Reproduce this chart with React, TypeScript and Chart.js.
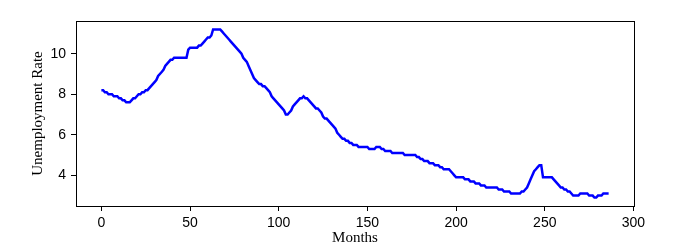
import React, { useEffect, useRef } from "react";
import { Chart, registerables } from "chart.js";

Chart.register(...registerables);

// Monthly unemployment rate, month index 0..286
const rates: number[] = [
  8.2, 8.2, 8.1, 8.1, 8.0, 8.0, 8.0, 7.9, 7.9, 7.9,
  7.8, 7.8, 7.7, 7.7, 7.6, 7.6, 7.6, 7.7, 7.8, 7.8,
  7.9, 8.0, 8.0, 8.1, 8.1, 8.2, 8.2, 8.3, 8.4, 8.5,
  8.6, 8.7, 8.9, 9.0, 9.1, 9.2, 9.4, 9.5, 9.6, 9.7,
  9.7, 9.8, 9.8, 9.8, 9.8, 9.8, 9.8, 9.8, 9.8, 10.2,
  10.3, 10.3, 10.3, 10.3, 10.3, 10.4, 10.4, 10.5, 10.6, 10.7,
  10.8, 10.8, 10.9, 11.2, 11.2, 11.2, 11.2, 11.2, 11.1, 11.0,
  10.9, 10.8, 10.7, 10.6, 10.5, 10.4, 10.3, 10.2, 10.1, 10.0,
  9.8, 9.7, 9.6, 9.4, 9.2, 9.0, 8.8, 8.7, 8.6, 8.5,
  8.5, 8.4, 8.4, 8.3, 8.2, 8.1, 7.9, 7.8, 7.7, 7.6,
  7.5, 7.4, 7.3, 7.2, 7.0, 7.0, 7.1, 7.2, 7.4, 7.5,
  7.6, 7.7, 7.8, 7.8, 7.9, 7.8, 7.8, 7.7, 7.6, 7.5,
  7.4, 7.3, 7.3, 7.2, 7.1, 6.9, 6.8, 6.8, 6.7, 6.6,
  6.5, 6.4, 6.3, 6.1, 6.0, 5.9, 5.8, 5.8, 5.7, 5.7,
  5.6, 5.6, 5.5, 5.5, 5.5, 5.4, 5.4, 5.4, 5.4, 5.4,
  5.4, 5.3, 5.3, 5.3, 5.3, 5.4, 5.4, 5.4, 5.3, 5.3,
  5.2, 5.2, 5.2, 5.2, 5.1, 5.1, 5.1, 5.1, 5.1, 5.1,
  5.1, 5.0, 5.0, 5.0, 5.0, 5.0, 5.0, 5.0, 4.9, 4.9,
  4.8, 4.8, 4.7, 4.7, 4.7, 4.6, 4.6, 4.6, 4.5, 4.5,
  4.5, 4.4, 4.4, 4.3, 4.3, 4.3, 4.3, 4.2, 4.1, 4.0,
  3.9, 3.9, 3.9, 3.9, 3.9, 3.8, 3.8, 3.8, 3.7, 3.7,
  3.7, 3.6, 3.6, 3.6, 3.5, 3.5, 3.5, 3.4, 3.4, 3.4,
  3.4, 3.4, 3.4, 3.4, 3.3, 3.3, 3.3, 3.2, 3.2, 3.2,
  3.2, 3.1, 3.1, 3.1, 3.1, 3.1, 3.1, 3.2, 3.2, 3.3,
  3.4, 3.6, 3.8, 4.0, 4.2, 4.3, 4.4, 4.5, 4.5, 3.9,
  3.9, 3.9, 3.9, 3.9, 3.9, 3.8, 3.7, 3.6, 3.5, 3.4,
  3.4, 3.3, 3.3, 3.2, 3.2, 3.1, 3.0, 3.0, 3.0, 3.0,
  3.1, 3.1, 3.1, 3.1, 3.1, 3.0, 3.0, 3.0, 2.9, 2.9,
  3.0, 3.0, 3.0, 3.1, 3.1, 3.1, 3.1,
];

const xTicks: number[] = [0, 50, 100, 150, 200, 250, 300];
const yTicks: number[] = [4, 6, 8, 10];
const xLabel = "Months";
const yLabel = "Unemployment Rate";

const boxPlugin = {
  id: "boxFrame",
  afterDraw(chart: any) {
    const { ctx, chartArea } = chart;
    ctx.save();
    ctx.strokeStyle = "#000";
    ctx.lineWidth = 1;
    ctx.strokeRect(
      Math.round(chartArea.left) + 0.5,
      Math.round(chartArea.top) + 0.5,
      Math.round(chartArea.right - chartArea.left),
      Math.round(chartArea.bottom - chartArea.top)
    );
    ctx.restore();
  },
};

export default function App() {
  const ref = useRef<HTMLCanvasElement | null>(null);

  useEffect(() => {
    if (!ref.current) return;
    const points = rates.map((v, i) => ({ x: i, y: v }));
    const xMin = 0 - 0.05 * (rates.length - 1);
    const xMax = rates.length - 1 + 0.05 * (rates.length - 1);
    const lo = Math.min(...rates);
    const hi = Math.max(...rates);
    const yMin = lo - 0.05 * (hi - lo);
    const yMax = hi + 0.05 * (hi - lo);
    const tickFont = { family: "'Liberation Sans', Arial, sans-serif", size: 14 };
    const titleFont = { family: "'Liberation Serif', 'Times New Roman', serif", size: 15 };

    const chart = new Chart(ref.current, {
      type: "line",
      data: {
        datasets: [
          {
            data: points,
            borderColor: "#0000ff",
            borderWidth: 2.5,
            pointRadius: 0,
            tension: 0,
            fill: false,
          },
        ],
      },
      options: {
        animation: false,
        responsive: false,
        events: [],
        layout: { padding: { left: 0, right: 45, top: 21, bottom: 0 } },
        plugins: { legend: { display: false }, tooltip: { enabled: false } },
        scales: {
          x: {
            type: "linear",
            min: xMin,
            max: xMax,
            afterBuildTicks: (s: any) => {
              s.ticks = xTicks.map((v) => ({ value: v }));
            },
            afterFit: (s: any) => {
              s.height = 45;
            },
            grid: {
              display: true,
              drawOnChartArea: false,
              drawTicks: true,
              tickLength: 5,
              color: "#000",
              lineWidth: 1,
            },
            border: { display: true, color: "#000", width: 1 },
            ticks: {
              color: "#000",
              font: tickFont,
              padding: 4,
              maxRotation: 0,
              autoSkip: false,
              callback: (v: any) => String(v),
            },
            title: {
              display: true,
              text: xLabel,
              color: "#000",
              font: titleFont,
              padding: { top: 0, bottom: 4 },
            },
          },
          y: {
            type: "linear",
            min: yMin,
            max: yMax,
            afterBuildTicks: (s: any) => {
              s.ticks = yTicks.map((v) => ({ value: v }));
            },
            afterFit: (s: any) => {
              s.width = 76;
            },
            grid: {
              display: true,
              drawOnChartArea: false,
              drawTicks: true,
              tickLength: 5,
              color: "#000",
              lineWidth: 1,
            },
            border: { display: true, color: "#000", width: 1 },
            ticks: {
              color: "#000",
              font: tickFont,
              padding: 5,
              autoSkip: false,
              callback: (v: any) => String(v),
            },
            title: {
              display: true,
              text: yLabel,
              color: "#000",
              font: titleFont,
              padding: { top: 29, bottom: 0 },
            },
          },
        },
      },
      plugins: [boxPlugin],
    });
    return () => chart.destroy();
  }, []);

  return (
    <div style={{ position: "fixed", left: 0, top: 0, width: 679, height: 251, background: "#fff" }}>
      <canvas ref={ref} width={679} height={251} style={{ display: "block" }} />
    </div>
  );
}
